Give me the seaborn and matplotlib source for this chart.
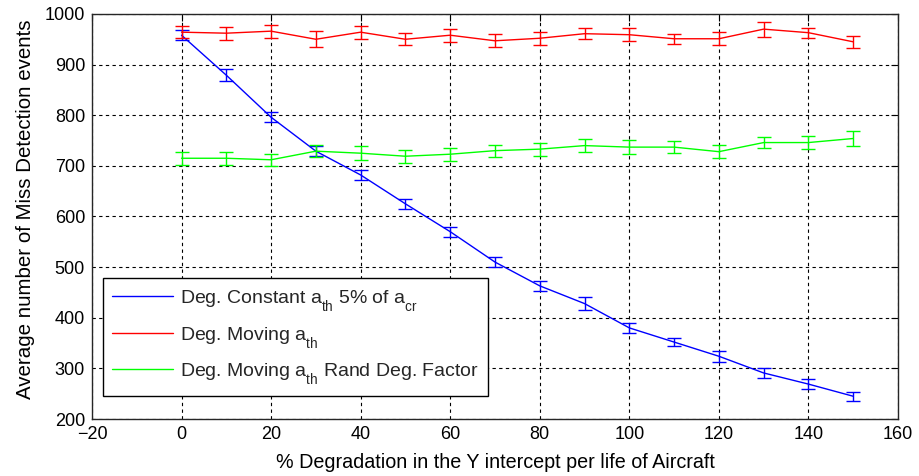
import numpy as np
import pandas as pd
import matplotlib
matplotlib.use("Agg")
import matplotlib.pyplot as plt
import matplotlib._mathtext as _mt
import seaborn as sns

# ---- data ----
x_vals = [0, 10, 20, 30, 40, 50, 60, 70, 80, 90, 100, 110, 120, 130, 140, 150]
blue_vals = [958, 879, 796, 729, 682, 625, 570, 510, 463, 428, 380, 352, 324, 291, 269, 245]
blue_err = [10, 12, 10, 10, 10, 10, 10, 10, 10, 12, 10, 8, 11, 10, 10, 9]
red_vals = [964, 962, 966, 950, 964, 950, 958, 947, 952, 961, 959, 951, 951, 970, 963, 945]
red_err = [12, 13, 13, 16, 13, 12, 13, 13, 13, 11, 13, 10, 13, 15, 10, 12]
green_vals = [715, 715, 712, 729, 725, 719, 723, 730, 733, 740, 737, 737, 728, 746, 746, 754]
green_err = [13, 13, 12, 12, 14, 13, 13, 12, 13, 13, 14, 12, 13, 11, 13, 15]
labels = [r"Deg. Constant a$_{th}$ 5% of a$_{cr}$",
          r"Deg. Moving a$_{th}$",
          r"Deg. Moving a$_{th}$ Rand Deg. Factor"]
colors = ["#0000ff", "#ff0000", "#00ff00"]
x_ticks = [-20, 0, 20, 40, 60, 80, 100, 120, 140, 160]
y_ticks = [200, 300, 400, 500, 600, 700, 800, 900, 1000]

# deeper subscripts, MATLAB-like
try:
    _mt.FontConstantsBase.sub1 = 0.8
    _mt.FontConstantsBase.subdrop = 0.8
except Exception:
    pass

sns.set_theme(style="white")
plt.rcParams["font.family"] = ["Liberation Sans", "DejaVu Sans"]
plt.rcParams["mathtext.fontset"] = "custom"
plt.rcParams["mathtext.rm"] = "Liberation Sans"
plt.rcParams["mathtext.it"] = "Liberation Sans"
plt.rcParams["mathtext.default"] = "regular"

fig = plt.figure(figsize=(9.19, 4.76), dpi=100)
ax = fig.add_axes([0.1001, 0.1197, 0.877, 0.851])

series = [(blue_vals, blue_err), (red_vals, red_err), (green_vals, green_err)]
for (vals, err), lab, col in zip(series, labels, colors):
    df = pd.DataFrame({"x": x_vals, "y": vals})
    sns.lineplot(data=df, x="x", y="y", ax=ax, color=col, lw=1.0, label=lab, zorder=3)
    ax.errorbar(x_vals, vals, yerr=err, fmt="none", ecolor=col, elinewidth=1.0,
                capsize=4.7, capthick=1.0, zorder=3)

ax.set_xlim(-20, 160)
ax.set_ylim(200, 1000)
ax.set_xticks(x_ticks)
ax.set_yticks(y_ticks)
ax.tick_params(direction="in", top=True, right=True, length=5, width=0.8,
               labelsize=13, colors="black", pad=5)
ax.grid(True, color="black", linestyle=(0, (3, 3)), linewidth=0.8, zorder=1)
for s in ax.spines.values():
    s.set_color("#262626")
    s.set_linewidth(1.0)

ax.set_xlabel("% Degradation in the Y intercept per life of Aircraft", fontsize=14.2, color="black", labelpad=7)
ax.set_ylabel("Average number of Miss Detection events", fontsize=14.8, color="black", labelpad=7)
ax.yaxis.label.set_y(0.518)

leg = ax.legend(loc="lower left", bbox_to_anchor=(0.0133, 0.0568), borderaxespad=0,
                fancybox=False, framealpha=1, edgecolor="black", fontsize=14,
                handlelength=3.1, handletextpad=0.35, borderpad=0.5, labelspacing=0.6)
leg.get_frame().set_linewidth(1.0)
leg.set_zorder(5)

fig.savefig("out.png", dpi=100)
